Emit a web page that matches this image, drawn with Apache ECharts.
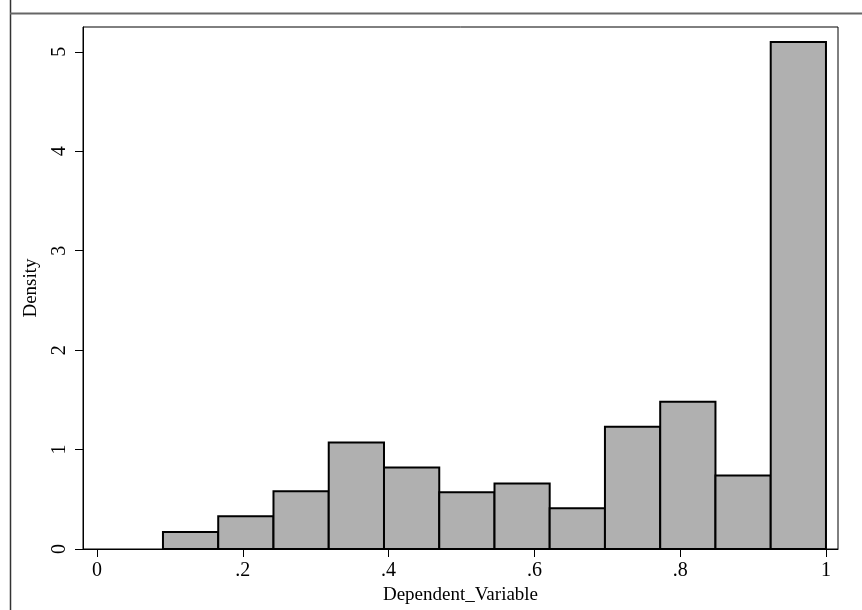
<!DOCTYPE html>
<html>
<head>
<meta charset="utf-8">
<script src="https://cdn.jsdelivr.net/npm/echarts@6/dist/echarts.min.js"></script>
<style>
  html, body { margin: 0; padding: 0; background: #fff; }
  #chart { width: 862px; height: 610px; }
</style>
</head>
<body>
<div id="chart"></div>
<script>
// histogram bins
const binStart = [0.0905, 0.1663, 0.2421, 0.3179, 0.3937, 0.4695, 0.5453, 0.6210, 0.6968, 0.7726, 0.8484, 0.9242];
const binEnd   = [0.1663, 0.2421, 0.3179, 0.3937, 0.4695, 0.5453, 0.6210, 0.6968, 0.7726, 0.8484, 0.9242, 1.0000];
const density  = [0.17, 0.33, 0.58, 1.07, 0.82, 0.57, 0.66, 0.41, 1.23, 1.48, 0.74, 5.10];
const xTicks = [0, 0.2, 0.4, 0.6, 0.8, 1];
const yTicks = [0, 1, 2, 3, 4, 5];

const serif = '"Liberation Serif", "DejaVu Serif", serif';
let myChart = echarts.init(document.getElementById('chart'));

let option = {
  animation: false,
  grid: {
    left: 83, right: 24, top: 27, bottom: 61,
    show: true,
    borderColor: '#000',
    borderWidth: 1
  },
  xAxis: {
    type: 'value',
    min: -0.0192,
    max: 1.0165,
    name: 'Dependent_Variable',
    nameLocation: 'middle',
    nameGap: 31,
    nameTextStyle: { fontFamily: serif, fontSize: 19, color: '#000' },
    axisLine: { show: true, onZero: false, lineStyle: { color: '#000', width: 1 } },
    axisTick: { show: true, customValues: xTicks, length: 8, lineStyle: { color: '#000', width: 1 } },
    axisLabel: {
      customValues: xTicks,
      margin: 12,
      fontFamily: serif, fontSize: 20, color: '#000',
      formatter: v => v === 0 ? '0' : v === 1 ? '1' : String(v).replace(/^0/, '')
    },
    splitLine: { show: false }
  },
  yAxis: {
    type: 'value',
    min: 0,
    max: 5.25,
    name: 'Density',
    nameLocation: 'middle',
    nameGap: 42,
    nameTextStyle: { fontFamily: serif, fontSize: 19, color: '#000' },
    axisLine: { show: true, onZero: false, lineStyle: { color: '#000', width: 1 } },
    axisTick: { show: true, customValues: yTicks, length: 8, lineStyle: { color: '#000', width: 1 } },
    axisLabel: {
      customValues: yTicks,
      rotate: 90,
      margin: 13,
      fontFamily: serif, fontSize: 20, color: '#000'
    },
    splitLine: { show: false }
  },
  graphic: [
    { type: 'line', shape: { x1: 10.5, y1: 0, x2: 10.5, y2: 610 }, style: { stroke: '#333', lineWidth: 1.5 } },
    { type: 'line', shape: { x1: 10, y1: 13.5, x2: 862, y2: 13.5 }, style: { stroke: '#666', lineWidth: 2 } }
  ],
  series: [
    {
      type: 'custom',
      data: density.map((d, i) => [binStart[i], binEnd[i], d]),
      renderItem: (params, api) => {
        const p0 = api.coord([api.value(0), 0]);
        const p1 = api.coord([api.value(1), api.value(2)]);
        return {
          type: 'rect',
          shape: { x: p0[0], y: p1[1], width: p1[0] - p0[0], height: p0[1] - p1[1] },
          style: { fill: '#b0b0b0', stroke: '#000', lineWidth: 2 }
        };
      }
    }
  ]
};
myChart.setOption(option);
</script>
</body>
</html>
